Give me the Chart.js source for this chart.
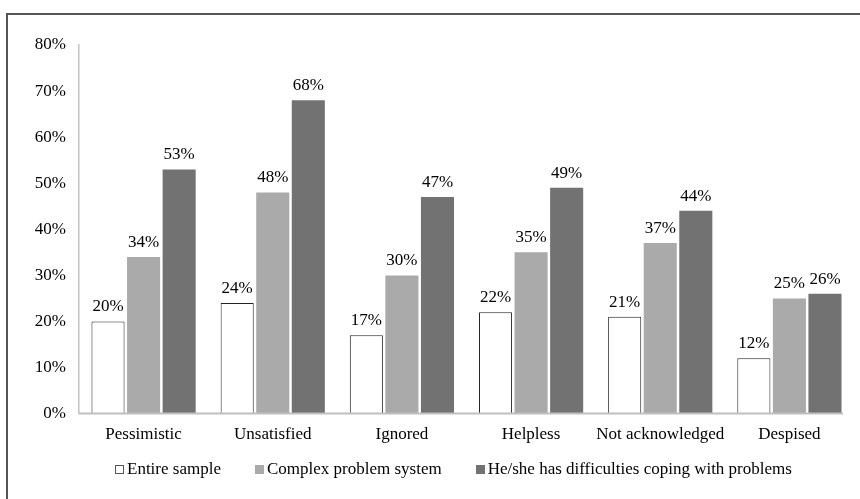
<!DOCTYPE html>
<html>
<head>
<meta charset="utf-8">
<script src="https://cdn.jsdelivr.net/npm/chart.js@4/dist/chart.umd.min.js"></script>
<style>
  html, body { margin: 0; padding: 0; background: #fff; overflow: hidden; }
  #wrap { position: relative; width: 860px; height: 499px; }
  #frame { position: absolute; left: 6px; top: 13px; width: 900px; height: 520px;
           border-left: 2px solid #555; border-top: 2px solid #555; box-sizing: border-box; }
  #c { position: absolute; left: 0; top: 0; }
  #legend { position: absolute; left: 115px; top: 460px; display: flex; white-space: nowrap;
            font: 17px/17px "Liberation Serif", "Times New Roman", serif; color: #000; }
  #legend .item { display: flex; align-items: center; margin-right: 34px; }
  #legend .box { width: 9px; height: 9px; box-sizing: border-box; margin-right: 3px; margin-top: 1px; }
</style>
</head>
<body>
<div id="wrap">
  <div id="frame"></div>
  <canvas id="c" width="860" height="499"></canvas>
  <div id="legend"></div>
</div>
<script>
const categories = ['Pessimistic', 'Unsatisfied', 'Ignored', 'Helpless', 'Not acknowledged', 'Despised'];
const entireSample = [20, 24, 17, 22, 21, 12];
const complexProblemSystem = [34, 48, 30, 35, 37, 25];
const copingDifficulties = [53, 68, 47, 49, 44, 26];
const yTicks = [0, 10, 20, 30, 40, 50, 60, 70, 80];

const serif = '"Liberation Serif", "Times New Roman", serif';

// Percentage labels drawn just above each bar
const valueLabels = {
  id: 'valueLabels',
  afterDatasetsDraw(chart) {
    const ctx = chart.ctx;
    ctx.save();
    ctx.font = '17px ' + serif;
    ctx.fillStyle = '#000';
    ctx.textAlign = 'center';
    ctx.textBaseline = 'alphabetic';
    chart.data.datasets.forEach((ds, i) => {
      chart.getDatasetMeta(i).data.forEach((bar, j) => {
        ctx.fillText(ds.data[j] + '%', bar.x, bar.y - 10);
      });
    });
    ctx.restore();
  }
};

// Horizontal baseline under the bars, stopping a little short of the right edge
const baseline = {
  id: 'baseline',
  afterDatasetsDraw(chart) {
    const { ctx, chartArea, scales } = chart;
    const y = scales.y.getPixelForValue(0);
    ctx.save();
    ctx.strokeStyle = '#bfbfbf';
    ctx.lineWidth = 2;
    ctx.beginPath();
    ctx.moveTo(chartArea.left, y);
    ctx.lineTo(chartArea.right - 11, y);
    ctx.stroke();
    ctx.restore();
  }
};

// Legend row built from the datasets
const htmlLegend = {
  id: 'htmlLegend',
  afterUpdate(chart) {
    const el = document.getElementById('legend');
    el.innerHTML = '';
    chart.data.datasets.forEach(ds => {
      const item = document.createElement('div');
      item.className = 'item';
      const box = document.createElement('span');
      box.className = 'box';
      box.style.background = ds.backgroundColor;
      box.style.border = ds.borderWidth ? '1px solid #555' : 'none';
      const text = document.createElement('span');
      text.textContent = ds.label;
      item.appendChild(box);
      item.appendChild(text);
      el.appendChild(item);
    });
  }
};

new Chart(document.getElementById('c'), {
  type: 'bar',
  data: {
    labels: categories,
    datasets: [
      { label: 'Entire sample', data: entireSample, backgroundColor: '#ffffff',
        borderColor: '#222222', borderWidth: 1 },
      { label: 'Complex problem system', data: complexProblemSystem, backgroundColor: '#aaaaaa',
        borderColor: '#aaaaaa', borderWidth: 0 },
      { label: 'He/she has difficulties coping with problems', data: copingDifficulties,
        backgroundColor: '#727272', borderColor: '#727272', borderWidth: 0 }
    ]
  },
  options: {
    responsive: false,
    animation: false,
    layout: { padding: { left: 10, right: 6, top: 45, bottom: 43 } },
    datasets: { bar: { categoryPercentage: 0.826, barPercentage: 0.93 } },
    scales: {
      x: {
        grid: { display: false, drawTicks: false },
        border: { display: false },
        ticks: { color: '#000', font: { family: serif, size: 17 }, padding: 11,
                 maxRotation: 0, minRotation: 0, autoSkip: false }
      },
      y: {
        min: 0, max: 80,
        afterBuildTicks(scale) { scale.ticks = yTicks.map(v => ({ value: v })); },
        afterFit(scale) { scale.width = 69; },
        grid: { display: false, drawTicks: false },
        border: { color: '#c4c4c4', width: 1.5 },
        ticks: { color: '#000', font: { family: serif, size: 17 }, padding: 13,
                 callback: v => v + '%' }
      }
    },
    plugins: {
      legend: { display: false },
      tooltip: { enabled: false }
    }
  },
  plugins: [valueLabels, baseline, htmlLegend]
});
</script>
</body>
</html>
